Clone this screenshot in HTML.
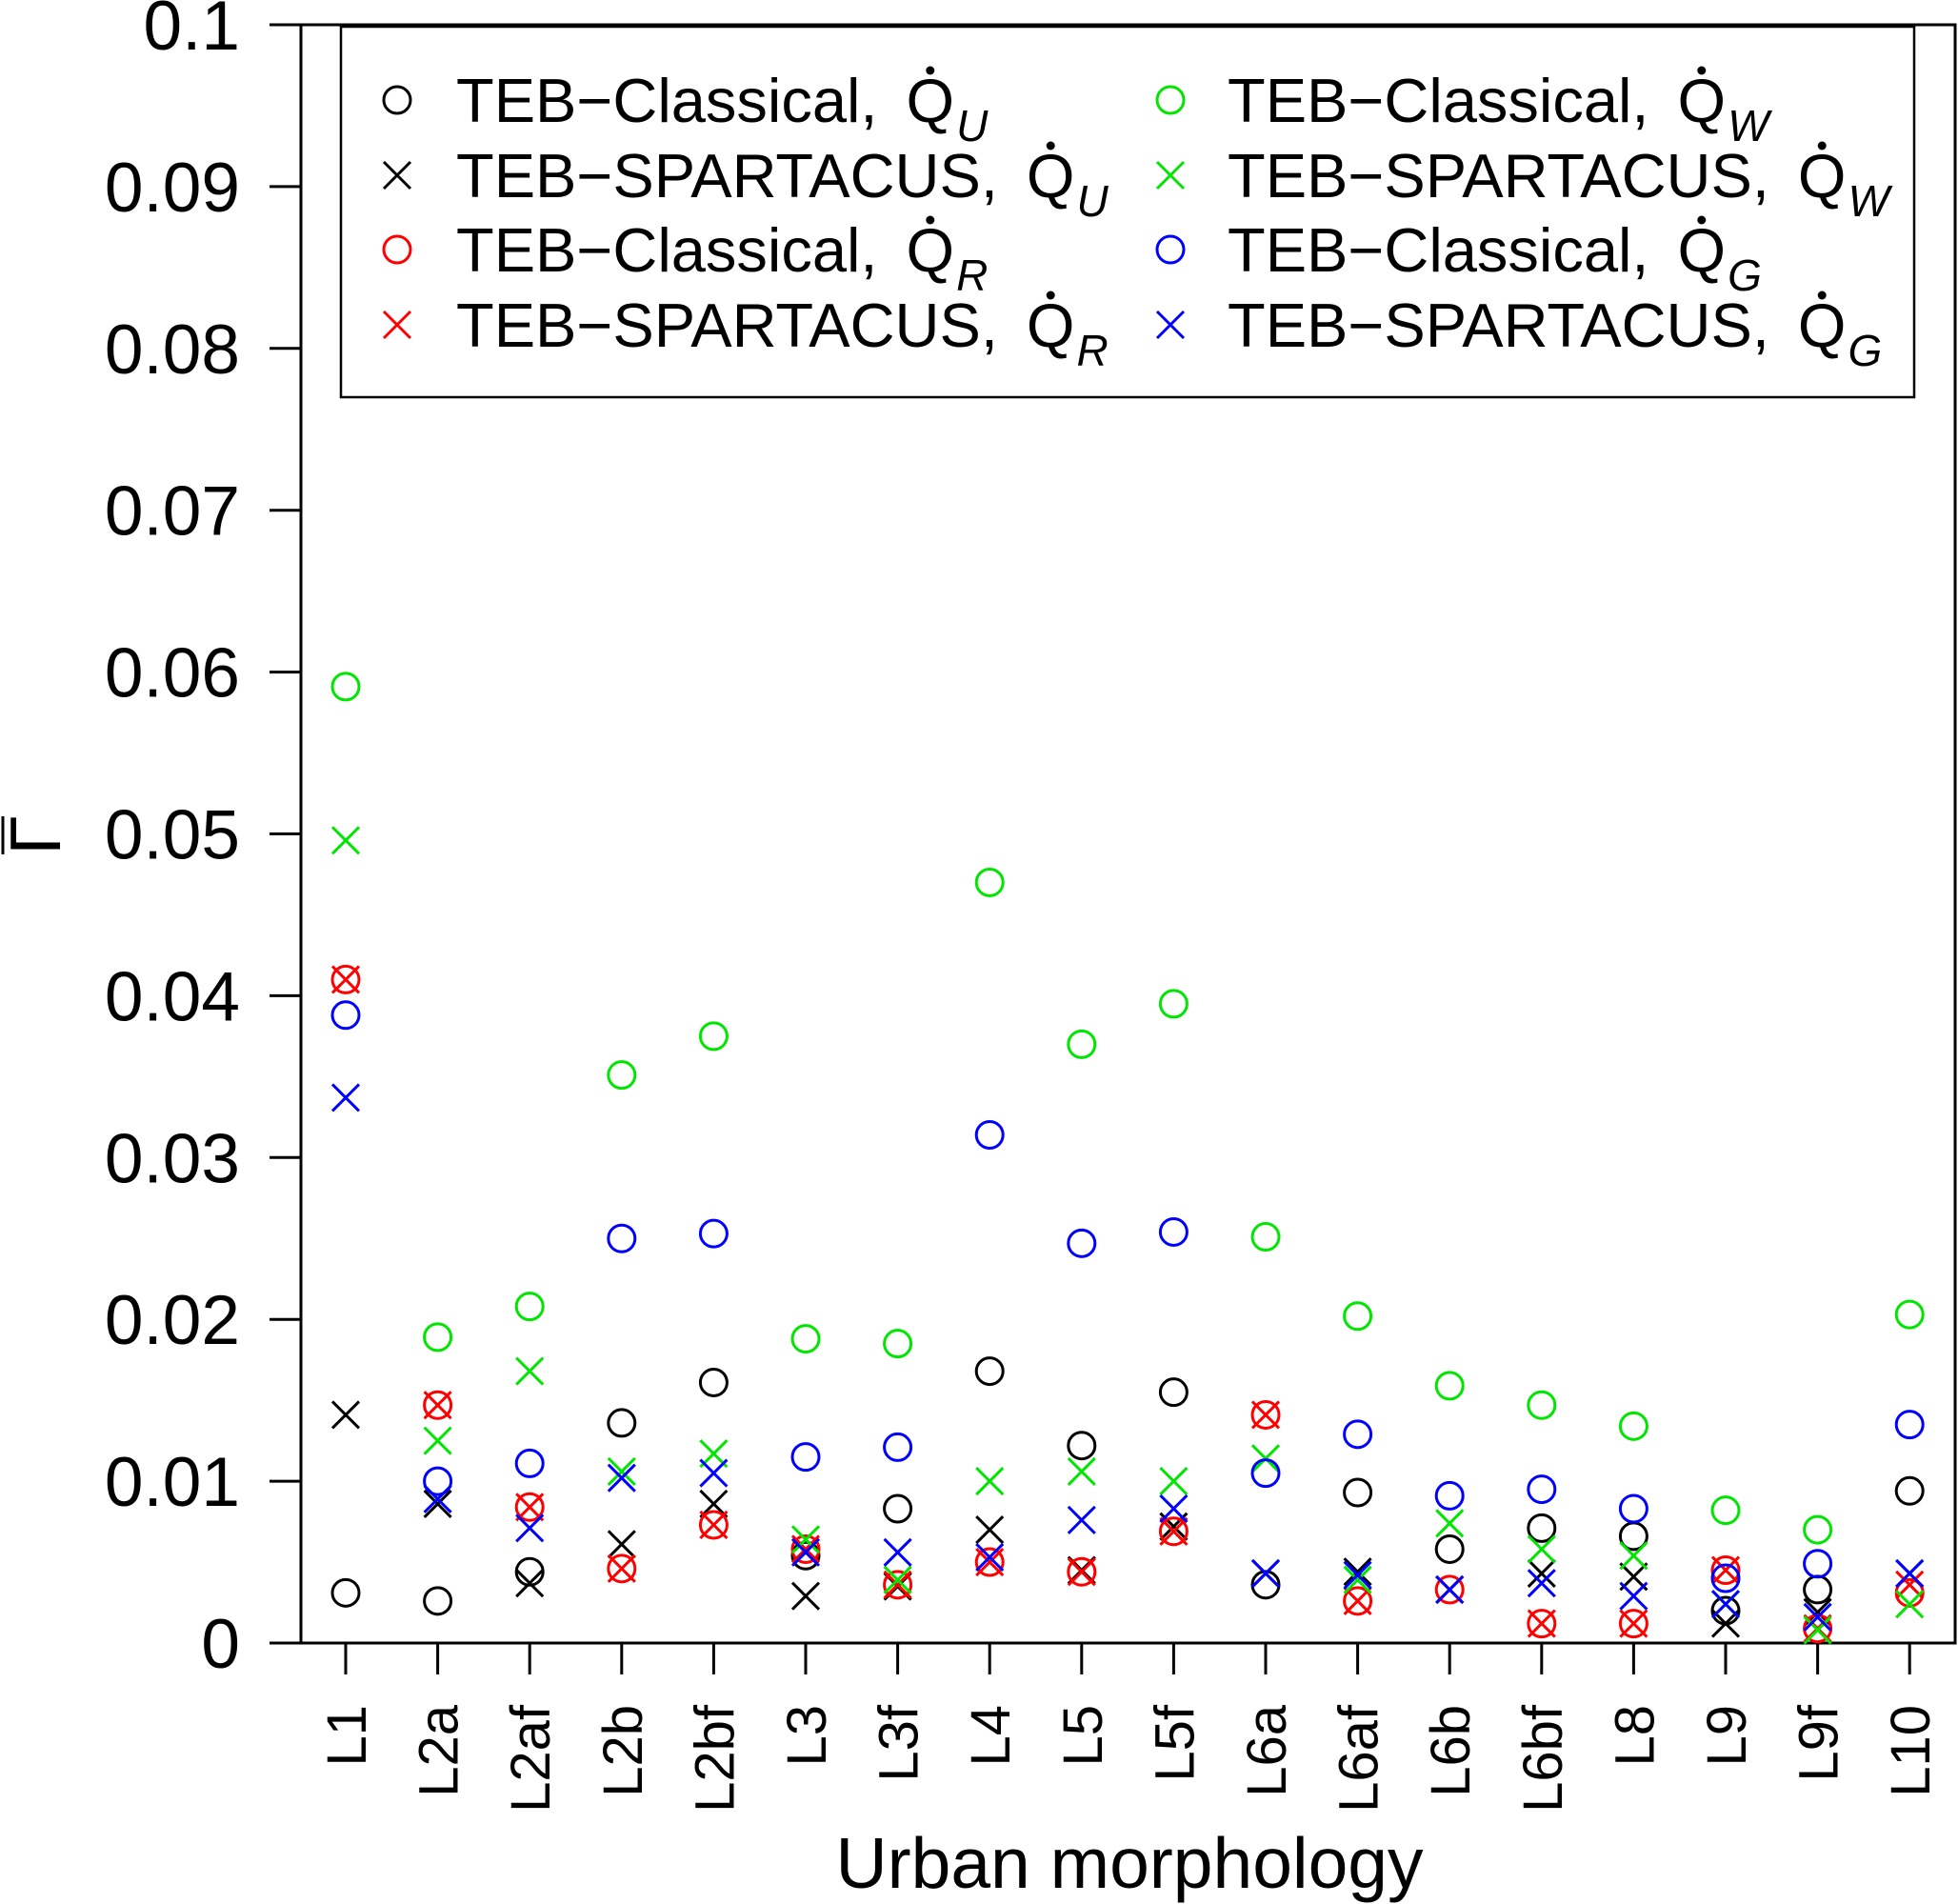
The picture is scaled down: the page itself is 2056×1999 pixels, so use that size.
<!DOCTYPE html>
<html><head><meta charset="utf-8"><style>
html,body{margin:0;padding:0;background:#fff;}
svg{display:block;}
text{font-family:"Liberation Sans",sans-serif;}
</style></head><body>
<svg id="chart" width="2056" height="1999" viewBox="0 0 2056 1999" xmlns="http://www.w3.org/2000/svg">
<g id="axes"></g>
<g id="marks"></g>
<g id="legend"></g>
</svg>
<script>
const categories = ["L1","L2a","L2af","L2b","L2bf","L3","L3f","L4","L5","L5f","L6a","L6af","L6b","L6bf","L8","L9","L9f","L10"];
const yTicks = [0,0.01,0.02,0.03,0.04,0.05,0.06,0.07,0.08,0.09,0.1];
const yTickLabels = ["0","0.01","0.02","0.03","0.04","0.05","0.06","0.07","0.08","0.09","0.1"];
const classicalQU = [0.0031,0.0026,0.0044,0.0136,0.0161,0.0054,0.0083,0.0168,0.0122,0.0155,0.0036,0.0093,0.0058,0.0071,0.0066,0.0020,0.0033,0.0094];
const spartacusQU = [0.0141,0.0086,0.0037,0.0061,0.0086,0.0029,0.0035,0.0070,0.0045,0.0072,0.0043,0.0044,0.0033,0.0043,0.0041,0.0012,0.0019,0.0043];
const classicalQR = [0.0410,0.0147,0.0084,0.0046,0.0073,0.0058,0.0036,0.0050,0.0044,0.0069,0.0141,0.0026,0.0033,0.0012,0.0012,0.0045,0.0009,0.0031];
const spartacusQR = [0.0410,0.0147,0.0084,0.0046,0.0073,0.0058,0.0036,0.0050,0.0044,0.0069,0.0141,0.0026,0.0033,0.0012,0.0012,0.0045,0.0009,0.0036];
const classicalQW = [0.0591,0.0189,0.0208,0.0351,0.0375,0.0188,0.0185,0.0470,0.0370,0.0395,0.0251,0.0202,0.0159,0.0147,0.0134,0.0082,0.0070,0.0203];
const spartacusQW = [0.0496,0.0125,0.0168,0.0106,0.0117,0.0064,0.0039,0.0100,0.0106,0.0100,0.0114,0.0039,0.0074,0.0058,0.0054,0.0024,0.0008,0.0024];
const classicalQG = [0.0388,0.0100,0.0111,0.0250,0.0253,0.0115,0.0121,0.0314,0.0247,0.0254,0.0105,0.0129,0.0091,0.0095,0.0083,0.0040,0.0049,0.0135];
const spartacusQG = [0.0337,0.0089,0.0071,0.0102,0.0105,0.0056,0.0056,0.0053,0.0076,0.0083,0.0043,0.0042,0.0033,0.0037,0.0029,0.0024,0.0016,0.0043];

const NS="http://www.w3.org/2000/svg";
const L=316,R=2053,T=26,B=1725;
const x0=363, dx=96.6;
function xScale(i){return x0+i*dx;}
function yScale(v){return B-(v/0.1)*(B-T);}
function mk(tag,attrs,parent){const e=document.createElementNS(NS,tag);for(const k in attrs)e.setAttribute(k,attrs[k]);parent.appendChild(e);return e;}
const axes=document.getElementById('axes'), marks=document.getElementById('marks'), legend=document.getElementById('legend');

const box=mk('rect',{x:L,y:T,width:R-L,height:B-T,fill:'none',stroke:'#000','stroke-width':3},axes);



yTicks.forEach((v,i)=>{
  const y=yScale(v);
  const t=mk('line',{x1:L-33,x2:L,y1:y,y2:y,stroke:'#000','stroke-width':3},axes);
  
  
  const lb=mk('text',{x:252,y:y+26,'font-size':73,'text-anchor':'end'},axes);
  lb.textContent=yTickLabels[i];
  
  
});
categories.forEach((c,i)=>{
  const x=xScale(i);
  const t=mk('line',{x1:x,x2:x,y1:B,y2:B+33,stroke:'#000','stroke-width':3},axes);
  
  
  const lb=mk('text',{x:0,y:0,'font-size':58,'text-anchor':'end',transform:`translate(${x+21},1790) rotate(-90)`},axes);
  lb.textContent=c;
  
  
});
const xt=mk('text',{x:1186,y:1982,'font-size':75,'text-anchor':'middle'},axes);
xt.textContent='Urban morphology';


const yt=mk('text',{x:0,y:0,'font-size':75,'text-anchor':'middle','font-family':'Liberation Serif, serif',transform:'translate(63,877) rotate(-90)'},axes);
yt.textContent='Γ';


const ob=mk('line',{x1:3,x2:3,y1:857,y2:897,stroke:'#000','stroke-width':3},axes);



function circle(cx,cy,col,parent){return mk('circle',{cx:cx,cy:cy,r:14,fill:'none',stroke:col,'stroke-width':3},parent);}
function cross(cx,cy,col,parent){return mk('path',{d:`M${cx-14},${cy-14}L${cx+14},${cy+14}M${cx-14},${cy+14}L${cx+14},${cy-14}`,fill:'none',stroke:col,'stroke-width':3},parent);}

const series=[
 {vals:classicalQU,col:'#000',shape:'o',name:'TEB−Classical,',sub:'U',id:'classical-qu'},
 {vals:spartacusQU,col:'#000',shape:'x',name:'TEB−SPARTACUS,',sub:'U',id:'spartacus-qu'},
 {vals:classicalQR,col:'#ff0000',shape:'o',name:'TEB−Classical,',sub:'R',id:'classical-qr'},
 {vals:spartacusQR,col:'#ff0000',shape:'x',name:'TEB−SPARTACUS,',sub:'R',id:'spartacus-qr'},
 {vals:classicalQW,col:'#00e600',shape:'o',name:'TEB−Classical,',sub:'W',id:'classical-qw'},
 {vals:spartacusQW,col:'#00e600',shape:'x',name:'TEB−SPARTACUS,',sub:'W',id:'spartacus-qw'},
 {vals:classicalQG,col:'#0000ff',shape:'o',name:'TEB−Classical,',sub:'G',id:'classical-qg'},
 {vals:spartacusQG,col:'#0000ff',shape:'x',name:'TEB−SPARTACUS,',sub:'G',id:'spartacus-qg'}
];
series.forEach(s=>{
  s.vals.forEach((v,i)=>{
    const e=s.shape==='o'?circle(xScale(i),yScale(v),s.col,marks):cross(xScale(i),yScale(v),s.col,marks);
    
    
  });
});

const lr=mk('rect',{x:358,y:28,width:1652,height:389,fill:'#fff',stroke:'#000','stroke-width':2.5},legend);


const rowsY=[105,184,262,341];
const FS=65;
series.forEach((s,k)=>{
  const col=k<4?0:1, row=k%4;
  const sx=col?1229:417, tx=col?1289:479, cy=rowsY[row];
  const g=mk('g',{},legend);
  
  
  if(s.shape==='o')circle(sx,cy,s.col,g);else cross(sx,cy,s.col,g);
  const t=mk('text',{x:tx,y:cy+23,'font-size':FS},g);
  t.textContent=s.name;
  const w=t.getBBox().width;
  const qx=tx+w+30;
  const q=mk('text',{x:qx,y:cy+23,'font-size':FS},g);
  q.textContent='Q';
  const qw=q.getBBox().width||FS*0.778;
  mk('circle',{cx:qx+qw/2,cy:cy-31,r:4.5,fill:'#000'},g);
  const sb=mk('text',{x:qx+qw+2,y:cy+43,'font-size':46,'font-style':'italic'},g);
  sb.textContent=s.sub;
});
</script>
</body></html>
